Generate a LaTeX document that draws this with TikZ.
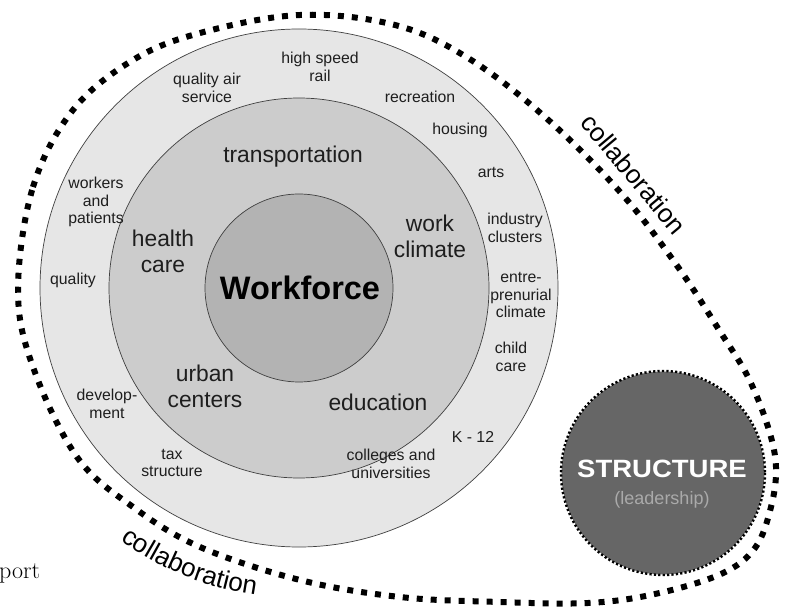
\documentclass[tikz,border=0pt]{standalone}
\usepackage{fontspec}
\newfontfamily\arialf{Liberation Sans}
\usetikzlibrary{decorations.text}
\definecolor{ringA}{HTML}{E6E6E6}
\definecolor{ringB}{HTML}{CCCCCC}
\definecolor{ringC}{HTML}{B3B3B3}
\definecolor{structfill}{HTML}{666666}
\definecolor{leadgray}{HTML}{AAAAAA}
\definecolor{txt}{HTML}{1E1E1E}
\tikzset{
  ring/.style={circle, draw=black!75, line width=0.7pt, inner sep=0pt},
  smalllbl/.style={font=\arialf\fontsize{15.8}{17.5}\selectfont, align=center, inner sep=0pt, text=txt},
  midlbl/.style={font=\arialf\fontsize{22.8}{26}\selectfont, align=center, inner sep=0pt, text=txt},
  collabloop/.style={line width=6pt, dash pattern=on 6pt off 8pt, line cap=butt},
  collabtxt/.style={font=\arialf\fontsize{26}{26}\selectfont, inner sep=0pt},
}
\begin{document}
\begin{tikzpicture}[x=1pt, y=-1pt]
\useasboundingbox (0,0) rectangle (788,612);
% collaboration loop
\draw[collabloop] plot[smooth cycle, tension=0.6] coordinates {
 (18,290) (33,187) (73,110) (133,60) (200,33) (300,15) (395,25) (468,58)
 (545,117) (621,193) (678,267) (721,333) (748,377) (768,427) (776,467)
 (771,507) (755,548) (721,574) (655,594) (588,603) (500,602) (400,597)
 (300,580) (200,547) (133,507) (77,457) (33,367)};
% concentric circles
\node[ring, fill=ringA, minimum size=518pt] (outer) at (299,288) {};
\node[ring, fill=ringB, minimum size=380pt] (middle) at (299,288) {};
\node[ring, fill=ringC, minimum size=188pt] (inner) at (299,288) {};
\node[font=\arialf\bfseries\fontsize{32.5}{32.5}\selectfont, inner sep=0pt, text=black] (wf) at (300,288) {Workforce};
% middle ring labels
\node[midlbl] (trans) at (293,157) {transportation};
\node[midlbl] (health) at (163,251) {health\\care};
\node[midlbl] (work) at (430,236) {work\\climate};
\node[midlbl] (urban) at (205,386) {urban\\centers};
\node[midlbl] (edu) at (378,402) {education};
% outer ring labels
\node[smalllbl] (hsr) at (320,67) {high speed\\rail};
\node[smalllbl] (qas) at (207,88) {quality air\\service};
\node[smalllbl] (rec) at (420,97) {recreation};
\node[smalllbl] (hous) at (460,130) {housing};
\node[smalllbl] (arts) at (491,172) {arts};
\node[smalllbl] (ind) at (515,228) {industry\\clusters};
\node[smalllbl] (entre) at (521,295) {entre-\\prenurial\\climate};
\node[smalllbl] (child) at (511,357) {child\\care};
\node[smalllbl] (k12) at (473,437) {K - 12};
\node[smalllbl] (coll) at (391,464) {colleges and\\universities};
\node[smalllbl] (tax) at (172,463) {tax\\structure};
\node[smalllbl] (dev) at (107,404) {develop-\\ment};
\node[smalllbl] (qual) at (73,280) {quality};
\node[smalllbl] (wap) at (96,202) {workers\\and\\patients};
% structure circle
\node[circle, fill=structfill, draw=white, line width=3pt, minimum size=206pt, inner sep=0pt] (struct) at (663,473) {};
\draw[black, line width=2.4pt, dash pattern=on 2.2pt off 2.2pt] (struct.center) circle[radius=102];
\node[font=\arialf\bfseries\fontsize{25}{25}\selectfont, text=white, inner sep=0pt, xscale=1.1] (structure) at (662,469) {STRUCTURE};
\node[font=\arialf\fontsize{18}{18}\selectfont, text=leadgray, inner sep=0pt] (lead) at (662,500) {(leadership)};
% collaboration labels
\node[collabtxt, rotate=-50] (collabTop) at (634,174) {collaboration};
\path[decorate, decoration={text along path, text align=center,
  text={|\arialf\fontsize{26}{26}\selectfont|collaboration}}]
  (111.5,533.8) arc[start angle=128, end angle=96, radius=303];
% stray text
\node[anchor=base west, font=\fontsize{24}{24}\selectfont, inner sep=0pt] (port) at (-1,578) {port};
\end{tikzpicture}
\end{document}
